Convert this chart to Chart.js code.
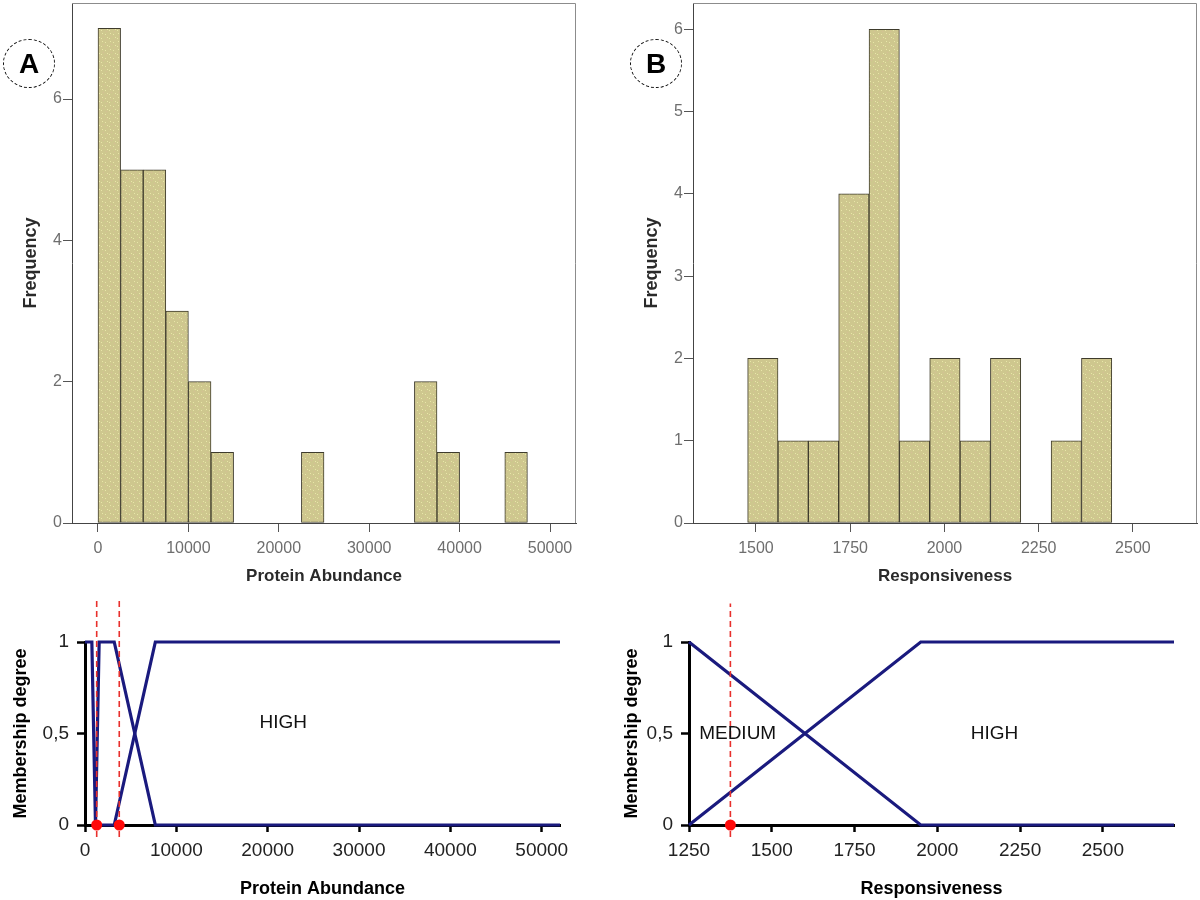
<!DOCTYPE html>
<html><head><meta charset="utf-8">
<script src="https://cdn.jsdelivr.net/npm/chart.js@4.4.1/dist/chart.umd.min.js"></script>
<style>
html,body{margin:0;padding:0;background:#fff;}
#wrap{position:relative;width:1200px;height:900px;overflow:hidden;background:#fff;}
canvas{position:absolute;left:0;top:0;}
.tag{position:absolute;width:52px;height:49px;border:1px dashed #111;border-radius:50%;box-sizing:border-box;
font:bold 28px "Liberation Sans",Arial,sans-serif;display:flex;align-items:center;justify-content:center;color:#000;}
</style></head>
<body><div id="wrap">
<canvas id="cA" width="1200" height="900"></canvas>
<canvas id="cB" width="1200" height="900"></canvas>
<canvas id="cC" width="1200" height="900"></canvas>
<canvas id="cD" width="1200" height="900"></canvas>
<div class="tag" style="left:3px;top:39px">A</div>
<div class="tag" style="left:630px;top:39px">B</div>
</div>
<script>
// ---------- DATA ----------
// Panel A histogram: Protein Abundance
const abundanceBinEdges = [0,2500,5000,7500,10000,12500,15000,17500,20000,22500,25000,27500,30000,32500,35000,37500,40000,42500,45000,47500,50000];
const abundanceCounts   = [7,5,5,3,2,1,0,0,0,1,0,0,0,0,2,1,0,0,1,0];
const abundanceTicks      = [0,10000,20000,30000,40000,50000];
const abundanceTickLabels = ['0','10000','20000','30000','40000','50000'];
const freqTicksA      = [0,2,4,6];
const freqTickLabelsA = ['0','2','4','6'];

// Panel B histogram: Responsiveness
const respBinEdges = [1478,1558.5,1639,1719.5,1800,1880.5,1961,2041.5,2122,2202.5,2283,2363.5,2444];
const respCounts   = [2,1,1,4,6,1,2,1,2,0,1,2];
const respTicks      = [1500,1750,2000,2250,2500];
const respTickLabels = ['1500','1750','2000','2250','2500'];
const freqTicksB      = [0,1,2,3,4,5,6];
const freqTickLabelsB = ['0','1','2','3','4','5','6'];

// Membership functions (lower panels)
const memTicks      = [0,0.5,1];
const memTickLabels = ['0','0,5','1'];

const abundanceMemTicks      = [0,10000,20000,30000,40000,50000];
const abundanceMemTickLabels = ['0','10000','20000','30000','40000','50000'];
const mfAbundanceVeryLow = [[0,1],[750,1],[1150,0]];
const mfAbundanceLow     = [[1150,0],[1550,1],[3200,1],[7700,0],[52000,0]];
const mfAbundanceHigh    = [[1550,0],[3200,0],[7700,1],[52000,1]];
const abundanceCutoffs   = [1280,3750];
const abundanceSetNames  = ['HIGH'];
const abundanceSetAt     = [[21700,0.56]];

const respMemTicks      = [1250,1500,1750,2000,2250,2500];
const respMemTickLabels = ['1250','1500','1750','2000','2250','2500'];
const mfRespMedium = [[1250,1],[1950,0],[2715,0]];
const mfRespHigh   = [[1250,0],[1950,1],[2715,1]];
const respCutoffs  = [1375];
const respSetNames = ['MEDIUM','HIGH'];
const respSetAt    = [[1397,0.5],[2173,0.5]];

// ---------- HELPERS ----------
const F = '"Liberation Sans", Arial, Helvetica, sans-serif';
const barEdge = '#3e3b2c';
const navy = '#1a1a7e';

// speckled khaki fill (fixed tile, purely decorative)
function makeBarFill(){
  const t = document.createElement('canvas'); t.width = 8; t.height = 8;
  const c = t.getContext('2d');
  c.fillStyle = 'rgb(206,199,142)'; c.fillRect(0,0,8,8);
  c.fillStyle = 'rgb(232,230,168)';
  [[1,2],[5,6],[6,1],[3,5]].forEach(([x,y])=>c.fillRect(x,y,1,1));
  c.fillStyle = 'rgb(214,190,150)';
  [[2,7],[7,4]].forEach(([x,y])=>c.fillRect(x,y,1,1));
  return c.createPattern(t,'repeat');
}
const barFill = makeBarFill();

const hist = (edges, counts) => counts.map((c,i)=>({x:(edges[i]+edges[i+1])/2, y:c})).filter(p=>p.y>0);
const pts = arr => arr.map(([x,y])=>({x,y}));
const fixW = w => s => { s.width = w; s.paddingTop=0; s.paddingBottom=0; s.paddingLeft=0; s.paddingRight=0; };
const fixH = h => s => { s.height = h; s.paddingTop=0; s.paddingBottom=0; s.paddingLeft=0; s.paddingRight=0; };
const setTicks = vals => s => { s.ticks = vals.map(v=>({value:v})); };

const framePlugin = {
  id:'frame',
  beforeDatasetsDraw(chart){
    const {ctx, chartArea:a} = chart;
    ctx.save(); ctx.strokeStyle='#8c8c8c'; ctx.lineWidth=1;
    ctx.beginPath();
    ctx.moveTo(a.left, a.top+0.5); ctx.lineTo(a.right-0.5, a.top+0.5); ctx.lineTo(a.right-0.5, a.bottom);
    ctx.stroke(); ctx.restore();
  }
};
const setLabelPlugin = {
  id:'setLabels',
  afterDatasetsDraw(chart, args, opts){
    const {ctx, scales:{x,y}} = chart;
    ctx.save(); ctx.font = '19px ' + F; ctx.fillStyle = '#111';
    ctx.textAlign='center'; ctx.textBaseline='middle';
    (opts.names||[]).forEach((t,i)=>{
      const [vx,vy] = opts.at[i];
      ctx.fillText(t, x.getPixelForValue(vx), y.getPixelForValue(vy));
    });
    ctx.restore();
  }
};

function histChart(id, pad, data, xr, xt, xl, yMax, yt, yl, xTitle){
  return new Chart(document.getElementById(id), {
    type:'bar',
    data:{datasets:[{data, backgroundColor:barFill, borderColor:barEdge, borderWidth:1, borderSkipped:false,
      barPercentage:1, categoryPercentage:1}]},
    plugins:[framePlugin],
    options:{
      responsive:false, animation:false, events:[],
      layout:{padding:pad},
      plugins:{legend:{display:false}, tooltip:{enabled:false}},
      scales:{
        x:{type:'linear', offset:false, min:xr[0], max:xr[1], afterBuildTicks:setTicks(xt), afterFit:fixH(70),
          grid:{offset:false, drawOnChartArea:false, tickLength:9, tickColor:'#555', tickWidth:1},
          border:{color:'#444', width:1},
          ticks:{callback:(v,i)=>xl[i], color:'#6e6e6e', font:{size:16, family:F, lineHeight:1.2}, padding:7, maxRotation:0, autoSkip:false},
          title:{display:true, text:xTitle, color:'#2a2a2a', font:{size:17, weight:'bold', family:F, lineHeight:1.2}, padding:{top:0,bottom:6.8}}},
        y:{type:'linear', min:0, max:yMax, afterBuildTicks:setTicks(yt), afterFit:fixW(72),
          grid:{drawOnChartArea:false, tickLength:9, tickColor:'#555', tickWidth:1},
          border:{color:'#444', width:1},
          ticks:{callback:(v,i)=>yl[i], color:'#6e6e6e', font:{size:16, family:F, lineHeight:1.2}, padding:1, autoSkip:false},
          title:{display:true, text:'Frequency', color:'#2a2a2a', font:{size:18, weight:'bold', family:F, lineHeight:1.2}, padding:{top:20.2,bottom:0}}}
      }
    }
  });
}

histChart('cA', {left:0, top:3, right:624, bottom:307}, hist(abundanceBinEdges, abundanceCounts),
  [-2876, 52876], abundanceTicks, abundanceTickLabels, 7.36, freqTicksA, freqTickLabelsA, 'Protein Abundance');
histChart('cB', {left:621, top:3, right:3, bottom:307}, hist(respBinEdges, respCounts),
  [1333, 2670], respTicks, respTickLabels, 6.32, freqTicksB, freqTickLabelsB, 'Responsiveness');

function memChart(id, pad, xr, xt, xl, sets, cutoffs, cutTop, names, at, xTitle, yTitlePad){
  const ds = [];
  ds.push({data:cutoffs.map(c=>({x:c,y:0})), showLine:false, pointRadius:5.5, pointBackgroundColor:'#ff0a0a',
    pointBorderWidth:0, clip:false});
  cutoffs.forEach(c=>ds.push({data:[{x:c,y:-0.065},{x:c,y:cutTop}], borderColor:'#e8302c', borderWidth:1.6,
    borderDash:[6,4], pointRadius:0, clip:false}));
  sets.forEach(s=>ds.push({data:pts(s), borderColor:navy, borderWidth:3.2, pointRadius:0, tension:0, fill:false,
    clip:false, borderJoinStyle:'miter'}));
  return new Chart(document.getElementById(id), {
    type:'line',
    data:{datasets:ds},
    plugins:[setLabelPlugin],
    options:{
      responsive:false, animation:false, events:[],
      layout:{padding:pad},
      plugins:{legend:{display:false}, tooltip:{enabled:false}, setLabels:{names, at}},
      scales:{
        x:{type:'linear', min:xr[0], max:xr[1], afterBuildTicks:setTicks(xt), afterFit:fixH(75),
          grid:{drawOnChartArea:false, tickLength:7, tickColor:'#000', tickWidth:2.5},
          border:{color:'#000', width:3},
          ticks:{callback:(v,i)=>xl[i], color:'#222', font:{size:19, family:F, lineHeight:1.2}, padding:7.6, maxRotation:0, autoSkip:false},
          title:{display:true, text:xTitle, color:'#000', font:{size:18, weight:'bold', family:F, lineHeight:1.2}, padding:{top:0,bottom:0.2}}},
        y:{type:'linear', min:0, max:1, afterBuildTicks:setTicks(memTicks), afterFit:fixW(85),
          grid:{drawOnChartArea:false, tickLength:8, tickColor:'#000', tickWidth:2.5},
          border:{color:'#000', width:3},
          ticks:{callback:(v,i)=>memTickLabels[i], color:'#222', font:{size:19, family:F, lineHeight:1.2}, padding:8, autoSkip:false},
          title:{display:true, text:'Membership degree', color:'#000', font:{size:18, weight:'bold', family:F, lineHeight:1.2}, padding:{top:yTitlePad,bottom:0}}}
      }
    }
  });
}

memChart('cC', {left:0, top:642, right:640, bottom:0}, [0,52000], abundanceMemTicks, abundanceMemTickLabels,
  [mfAbundanceVeryLow, mfAbundanceLow, mfAbundanceHigh], abundanceCutoffs, 1.245, abundanceSetNames, abundanceSetAt,
  'Protein Abundance', 10.2);
memChart('cD', {left:604, top:642, right:26, bottom:0}, [1250,2715], respMemTicks, respMemTickLabels,
  [mfRespMedium, mfRespHigh], respCutoffs, 1.21, respSetNames, respSetAt,
  'Responsiveness', 17.2);
</script>
</body></html>
